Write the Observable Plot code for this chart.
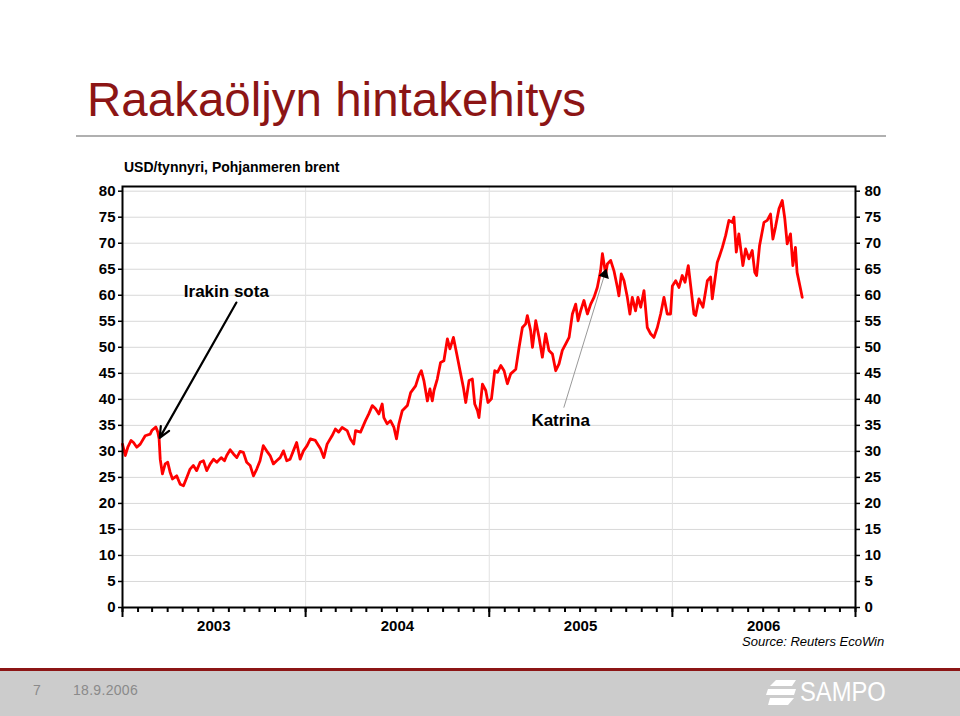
<!DOCTYPE html>
<html><head><meta charset="utf-8">
<script src="https://cdn.jsdelivr.net/npm/d3@7"></script>
<script src="https://cdn.jsdelivr.net/npm/@observablehq/plot@0.6"></script>
<style>
body{margin:0;background:#fff;font-family:Arial,"Liberation Sans",sans-serif;}
#page{position:relative;width:960px;height:716px;overflow:hidden;background:#fff;}
#chart{position:absolute;left:0;top:140px;z-index:1;}
#title{position:absolute;left:87px;top:72px;font-size:47.5px;color:#8c1515;line-height:56px;white-space:nowrap;z-index:2;}
#rule{position:absolute;left:76px;top:135px;width:810px;height:2px;background:#b0b0b0;z-index:2;}
#subtitle{position:absolute;left:124px;top:159px;font-size:14px;font-weight:bold;white-space:nowrap;z-index:2;}
#source{position:absolute;left:742px;top:635px;font-size:13px;line-height:14px;font-style:italic;white-space:nowrap;z-index:2;}
#fline{position:absolute;left:0;top:668px;width:960px;height:3px;background:#8c1515;}
#footer{position:absolute;left:0;top:671px;width:960px;height:45px;background:#cccccc;}
#pnum{position:absolute;left:33px;top:682px;font-size:14px;color:#8a8a8a;}
#pdate{position:absolute;left:73px;top:682px;font-size:14px;color:#8a8a8a;letter-spacing:0.3px;}
#logo{position:absolute;left:766px;top:678px;}
#logotext{position:absolute;left:800px;top:677px;font-family:"Liberation Sans Narrow","Liberation Sans",Arial,sans-serif;font-size:27px;color:#fff;transform:scaleX(0.88);transform-origin:left center;}
</style></head>
<body>
<div id="page">
  <div id="title">Raakaöljyn hintakehitys</div>
  <div id="rule"></div>
  <div id="subtitle">USD/tynnyri, Pohjanmeren brent</div>
  <div id="source">Source: Reuters EcoWin</div>
  <div id="fline"></div>
  <div id="footer"></div>
  <div id="pnum">7</div>
  <div id="pdate">18.9.2006</div>
  <svg id="logo" width="32" height="30" viewBox="0 0 32 30">
    <path d="M10 2 H30 L26 8 H4 Z" fill="#fff"/>
    <path d="M2 11 H30 L28 17 H0 Z" fill="#fff"/>
    <path d="M4 20 H28 L22 27 H2 Z" fill="#fff"/>
  </svg>
  <div id="logotext">SAMPO</div>
</div>
<script>
// Brent crude, USD/barrel — time in decimal years, prices
const t2003 = [2003.000,2003.015,2003.029,2003.047,2003.060,2003.078,2003.097,2003.124,2003.151,2003.160,2003.182,2003.193,2003.200,2003.206,2003.218,2003.233,2003.247,2003.260,2003.273,2003.296,2003.315,2003.333,2003.351,2003.369,2003.387,2003.405,2003.424,2003.442,2003.460,2003.479,2003.497,2003.515,2003.539,2003.557,2003.569,2003.588,2003.606,2003.624,2003.642,2003.660,2003.678,2003.697,2003.715,2003.733,2003.751,2003.769,2003.787,2003.806,2003.824,2003.842,2003.861,2003.879,2003.897,2003.915,2003.933,2003.951,2003.970,2003.988];
const p2003 = [31.4,29.2,30.8,32.1,31.7,30.8,31.4,33.0,33.3,34.0,34.7,33.7,32.4,28.5,25.7,27.6,27.9,26.0,24.7,25.3,23.7,23.4,25.0,26.6,27.3,26.3,27.9,28.2,26.3,27.6,28.5,27.9,28.8,28.2,29.2,30.3,29.5,28.8,30.0,29.8,27.9,27.3,25.3,26.6,28.2,31.1,30.1,29.2,27.6,28.2,28.8,30.1,28.2,28.5,30.1,31.7,28.5,30.1];

const t2004 = [2004.008,2004.026,2004.053,2004.081,2004.099,2004.117,2004.144,2004.162,2004.180,2004.199,2004.226,2004.244,2004.262,2004.272,2004.299,2004.326,2004.344,2004.363,2004.381,2004.399,2004.417,2004.426,2004.444,2004.462,2004.481,2004.495,2004.508,2004.526,2004.554,2004.572,2004.599,2004.617,2004.630,2004.644,2004.663,2004.677,2004.690,2004.699,2004.717,2004.735,2004.753,2004.772,2004.786,2004.805,2004.823,2004.841,2004.859,2004.872,2004.890,2004.908,2004.921,2004.936,2004.944,2004.963,2004.981,2004.993];
const p2004 = [31.1,32.4,32.1,30.5,28.8,31.4,33.0,34.3,33.7,34.6,34.0,32.4,31.4,34.0,33.7,35.9,37.2,38.8,38.2,37.2,39.1,36.5,35.3,35.9,34.6,32.4,35.3,37.8,38.8,41.3,42.6,44.6,45.5,43.6,39.7,42.0,39.7,41.7,43.9,47.1,47.4,51.6,49.7,51.9,48.7,45.5,42.3,39.4,43.6,43.9,39.1,37.8,36.5,42.9,41.7,39.4];

const t2005 = [2005.012,2005.030,2005.045,2005.063,2005.081,2005.099,2005.117,2005.145,2005.163,2005.181,2005.199,2005.208,2005.226,2005.236,2005.254,2005.272,2005.290,2005.308,2005.326,2005.345,2005.363,2005.381,2005.399,2005.417,2005.436,2005.454,2005.472,2005.485,2005.499,2005.517,2005.536,2005.554,2005.572,2005.590,2005.608,2005.618,2005.627,2005.636,2005.645,2005.663,2005.681,2005.700,2005.708,2005.721,2005.736,2005.754,2005.768,2005.781,2005.799,2005.812,2005.827,2005.845,2005.863,2005.881,2005.899,2005.918,2005.936,2005.954,2005.972,2005.990];
const p2005 = [40.1,45.5,45.2,46.5,45.5,43.0,44.9,45.8,50.0,53.8,54.5,56.1,53.2,50.0,55.1,51.9,48.1,52.6,49.4,48.7,45.5,46.8,49.4,50.6,51.9,56.4,58.3,55.1,57.0,59.0,56.4,58.3,59.6,61.5,64.7,68.0,66.0,64.1,66.0,66.7,64.7,61.5,59.9,64.1,62.8,59.6,56.4,59.6,57.0,59.6,57.7,60.9,53.8,52.6,51.9,53.8,56.4,59.6,56.4,56.4];

const t2006 = [2006.000,2006.018,2006.036,2006.054,2006.069,2006.087,2006.100,2006.118,2006.127,2006.145,2006.167,2006.191,2006.209,2006.218,2006.245,2006.258,2006.273,2006.291,2006.309,2006.327,2006.336,2006.349,2006.363,2006.385,2006.400,2006.418,2006.436,2006.450,2006.460,2006.476,2006.500,2006.518,2006.536,2006.549,2006.563,2006.582,2006.600,2006.614,2006.627,2006.645,2006.658,2006.672,2006.681,2006.700,2006.709];
const p2006 = [61.8,62.8,61.5,63.8,62.5,65.7,61.8,56.4,56.1,59.3,57.7,62.8,63.5,59.3,66.3,67.6,69.2,71.5,74.4,74.0,75.0,68.3,71.8,65.7,68.9,67.0,68.6,64.4,63.8,69.5,74.0,74.4,75.6,70.8,73.1,76.6,78.2,74.7,69.9,71.8,65.7,69.2,64.4,61.2,59.6];

const yTicks = [0,5,10,15,20,25,30,35,40,45,50,55,60,65,70,75,80];
const yearLabels = [2003, 2004, 2005, 2006];
const yearBounds = [2003, 2004, 2005, 2006, 2007];

const annoLabels = ["Irakin sota", "Katrina"];
const annoTextT = [2003.567, 2005.390];
const annoTextP = [60.7, 35.9];
// Irakin sota arrow: from, to
const iraqArrow = {t1: 2003.622, p1: 58.6, t2: 2003.203, p2: 32.6};
// Katrina leader: from, to
const katrinaLine = {t1: 2005.407, p1: 38.4, t2: 2005.630, p2: 64.0};

function toDate(t) {
  const y = Math.floor(t), f = t - y;
  const a = Date.UTC(y, 0, 1), b = Date.UTC(y + 1, 0, 1);
  return new Date(a + f * (b - a));
}

const series = [[t2003,p2003],[t2004,p2004],[t2005,p2005],[t2006,p2006]]
  .flatMap(([ts, ps]) => ts.map((t, i) => ({date: toDate(t), price: ps[i]})));

const months = d3.utcMonth.range(new Date(Date.UTC(2003,0,1)), new Date(Date.UTC(2007,0,2)));
const bounds = yearBounds.map(y => new Date(Date.UTC(y,0,1)));
const mids = yearLabels.map(y => new Date(Date.UTC(y,6,2)));
const annos = annoLabels.map((l, i) => ({label: l, date: toDate(annoTextT[i]), price: annoTextP[i]}));

const chart = Plot.plot({
  width: 960,
  height: 520,
  marginTop: 46,
  marginBottom: 53,
  marginLeft: 122,
  marginRight: 105,
  style: {background: "transparent", fontFamily: "Arial, 'Liberation Sans', sans-serif"},
  x: {type: "utc", domain: [bounds[0], bounds[bounds.length-1]], label: null},
  y: {domain: [0, 80.9], label: null},
  marks: [
    Plot.gridY(yTicks, {stroke: "#d8d8d8", strokeOpacity: 1}),
    Plot.gridX(bounds.slice(1, -1), {stroke: "#e2e2e2", strokeOpacity: 1}),
    Plot.line(series, {x: "date", y: "price", stroke: "#f00", strokeWidth: 2.8, curve: "linear", strokeLinejoin: "round"}),
    Plot.arrow([iraqArrow], {
      x1: d => toDate(d.t1), y1: "p1", x2: d => toDate(d.t2), y2: "p2",
      stroke: "#000", strokeWidth: 2.2, headLength: 8, headAngle: 48
    }),
    Plot.link([katrinaLine], {
      x1: d => toDate(d.t1), y1: "p1", x2: d => toDate(d.t2), y2: "p2",
      stroke: "#999", strokeWidth: 1
    }),
    Plot.dot([katrinaLine], {x: d => toDate(d.t2), y: "p2", symbol: "triangle", r: 4, fill: "#000", rotate: 17}),
    Plot.text(annos, {x: "date", y: "price", text: "label", fontSize: 17, fontWeight: "bold", fill: "#000"}),
    Plot.frame({stroke: "#000", strokeWidth: 2}),
    Plot.axisY(yTicks, {anchor: "left", tickSize: 4, tickPadding: 3, fontSize: 15, fontWeight: "bold", strokeWidth: 1.5, label: null}),
    Plot.axisY(yTicks, {anchor: "right", tickSize: 4, tickPadding: 5, fontSize: 15, fontWeight: "bold", strokeWidth: 1.5, label: null}),
    Plot.axisX(months, {anchor: "bottom", tickSize: 5, tickFormat: () => "", strokeWidth: 2, label: null}),
    Plot.axisX(bounds, {anchor: "bottom", tickSize: 10, tickFormat: () => "", strokeWidth: 2, label: null}),
    Plot.axisX(mids, {anchor: "bottom", tickSize: 0, tickPadding: 13, tickFormat: d => String(d.getUTCFullYear()), fontSize: 15, fontWeight: "bold", label: null})
  ]
});
chart.id = "chart";
document.getElementById("page").appendChild(chart);
</script>
</body></html>
